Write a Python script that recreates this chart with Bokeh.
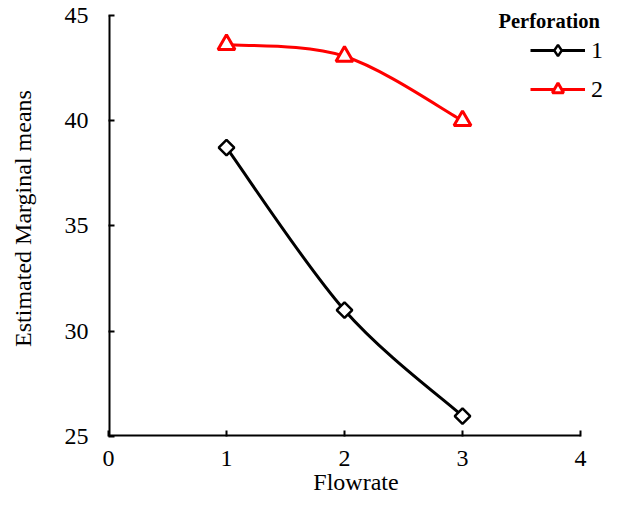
import numpy as np
from bokeh.plotting import figure
from bokeh.models import Range1d, Legend, LegendItem, Label, FixedTicker, ColumnDataSource
from bokeh.embed import file_html
from bokeh.resources import INLINE

# ---- data ----
flowrate = [1, 2, 3]
perforation_1 = [38.72, 31.0, 25.97]
perforation_2 = [43.62, 43.06, 40.0]
series_labels = ["1", "2"]
x_ticks = [0, 1, 2, 3, 4]
y_ticks = [25, 30, 35, 40, 45]

FONT = "Liberation Serif"
FS = "24px"

W, H = 603, 497
LEFT, BOTTOM = 108, 59
PX_PER_X = 118          # spacing between x ticks
Y_TOP_PX = 15           # pixel row of the top y tick (45)


def smooth_segments(xs, ys):
    """Cubic Bezier control points (Catmull-Rom style smoothing) through the data points."""
    n = len(xs)
    out = {k: [] for k in ("x0", "y0", "x1", "y1", "cx0", "cy0", "cx1", "cy1")}
    for i in range(n - 1):
        i0, i3 = max(i - 1, 0), min(i + 2, n - 1)
        out["x0"].append(xs[i]); out["y0"].append(ys[i])
        out["x1"].append(xs[i + 1]); out["y1"].append(ys[i + 1])
        out["cx0"].append(xs[i] + (xs[i + 1] - xs[i0]) / 6)
        out["cy0"].append(ys[i] + (ys[i + 1] - ys[i0]) / 6)
        out["cx1"].append(xs[i + 1] - (xs[i3] - xs[i]) / 6)
        out["cy1"].append(ys[i + 1] - (ys[i3] - ys[i]) / 6)
    return out


# The frame is extended to the right and top edges of the canvas so that the
# legend and its title (which sit partly outside the axes) are not clipped;
# the axis lines are drawn only over the axes' own extent.
y_lo, y_hi = y_ticks[0], y_ticks[-1]
frame_h = H - BOTTOM
x_end = (W - LEFT) / PX_PER_X
y_end = y_hi + Y_TOP_PX * (y_hi - y_lo) / (frame_h - Y_TOP_PX)

p = figure(width=W, height=H, output_backend="svg", toolbar_location=None,
           x_range=Range1d(0, x_end), y_range=Range1d(y_lo, y_end),
           min_border_left=LEFT, min_border_right=0, min_border_top=0,
           min_border_bottom=BOTTOM)
p.outline_line_color = None
p.xgrid.grid_line_color = None
p.ygrid.grid_line_color = None
p.background_fill_color = "white"
p.border_fill_color = "white"

for ax in (p.xaxis[0], p.yaxis[0]):
    ax.axis_line_color = None
    ax.major_tick_line_color = "black"
    ax.major_tick_line_width = 2
    ax.major_tick_in = 6
    ax.major_tick_out = 0
    ax.minor_tick_line_color = None
    ax.major_label_text_font = FONT
    ax.major_label_text_font_size = FS
    ax.major_label_text_color = "black"
    ax.axis_label_text_font = FONT
    ax.axis_label_text_font_size = FS
    ax.axis_label_text_font_style = "normal"
    ax.axis_label_text_color = "black"

p.xaxis.ticker = FixedTicker(ticks=x_ticks)
p.yaxis.ticker = FixedTicker(ticks=y_ticks)
p.xaxis.axis_label = "Flowrate"
p.yaxis.axis_label = "Estimated Marginal means"
p.xaxis.major_label_standoff = 14
p.xaxis.axis_label_standoff = 0
p.yaxis.major_label_standoff = 20
p.yaxis.axis_label_standoff = 26

# axis lines over the axes' extent (half of the width falls outside the frame)
p.segment(x0=[x_ticks[0], x_ticks[0]], y0=[y_lo, y_lo],
          x1=[x_ticks[-1], x_ticks[0]], y1=[y_lo, y_hi],
          line_color="black", line_width=4)

colors = ["black", "red"]
series = [perforation_1, perforation_2]
items = []
for lab, ys, col in zip(series_labels, series, colors):
    seg = smooth_segments(flowrate, ys)
    bz = p.bezier(x0=seg["x0"], y0=seg["y0"], x1=seg["x1"], y1=seg["y1"],
                  cx0=seg["cx0"], cy0=seg["cy0"], cx1=seg["cx1"], cy1=seg["cy1"],
                  line_color=col, line_width=3)
    src = ColumnDataSource(dict(x=flowrate, y=ys))
    if lab == "1":
        # diamond used for the legend sample (legend markers ignore angle);
        # on the plot it sits hidden beneath the rotated square drawn next
        sc = p.scatter("x", "y", source=src, marker="diamond", size=9,
                       fill_color="white", line_color=col, line_width=2.5)
        p.scatter("x", "y", source=src, marker="square", angle=np.pi / 4, size=11,
                  fill_color="white", line_color=col, line_width=2.5)
    else:
        sc = p.scatter("x", "y", source=src, marker="triangle", size=17,
                       fill_color="white", line_color=col, line_width=3)
    items.append(LegendItem(label=lab, renderers=[bz, sc]))

legend = Legend(items=items, location=(422, frame_h - 105), padding=0, margin=0,
                glyph_width=55, glyph_height=28, label_height=28, spacing=11,
                label_standoff=6, label_text_font=FONT, label_text_font_size=FS,
                label_text_color="black", border_line_color=None,
                background_fill_alpha=0)
p.add_layout(legend, "center")

title = Label(x=498 - LEFT, y=frame_h - 22, x_units="screen",
              y_units="screen", text="Perforation", text_font=FONT,
              text_font_size="20.5px", text_font_style="bold", text_baseline="middle",
              text_align="left", text_color="black")
p.add_layout(title)

open("out.html", "w").write(file_html(p, INLINE))
